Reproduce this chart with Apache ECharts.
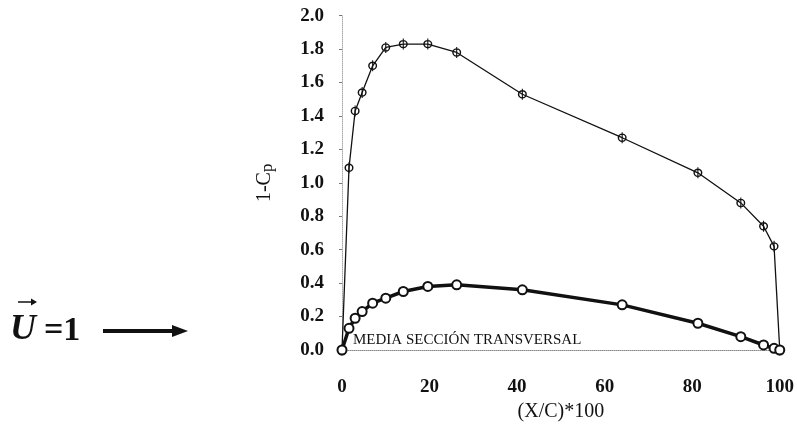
<!DOCTYPE html>
<html>
<head>
<meta charset="utf-8">
<script src="https://cdn.jsdelivr.net/npm/echarts@6/dist/echarts.min.js"></script>
<style>html,body{margin:0;padding:0;background:#fff;}#c{width:797px;height:431px;}</style>
</head>
<body>
<div id="c"></div>
<script>
const xPos = [0, 1.6, 3, 4.6, 7, 10, 14, 19.6, 26.2, 41.2, 64, 81.3, 91.1, 96.3, 98.7, 100];
const upperCp = [0, 1.09, 1.43, 1.54, 1.70, 1.81, 1.83, 1.83, 1.78, 1.53, 1.27, 1.06, 0.88, 0.74, 0.62, 0];
const lowerCp = [0, 0.13, 0.19, 0.23, 0.28, 0.31, 0.35, 0.38, 0.39, 0.36, 0.27, 0.16, 0.08, 0.03, 0.01, 0];
const xTicks = [0, 20, 40, 60, 80, 100];
const yTicks = [0.0, 0.2, 0.4, 0.6, 0.8, 1.0, 1.2, 1.4, 1.6, 1.8, 2.0];

const serif = '"Liberation Serif", "DejaVu Serif", serif';
const chart = echarts.init(document.getElementById('c'));
const ringSym = 'path://M5,0 A5,5 0 1,1 4.99,0 Z M5,1.6 A3.4,3.4 0 1,0 5.01,1.6 Z M4.4,-1.5 L5.6,-1.5 L5.6,11.5 L4.4,11.5 Z';

chart.setOption({
  animation: false,
  backgroundColor: '#fff',
  grid: { left: 342, right: 17, top: 15.7, bottom: 81, containLabel: false },
  xAxis: {
    type: 'value', min: xTicks[0], max: xTicks[xTicks.length - 1], interval: 20,
    name: '(X/C)*100', nameLocation: 'middle', nameGap: 52,
    nameTextStyle: { fontFamily: serif, fontSize: 20, color: '#111' },
    axisLine: { show: true, lineStyle: { color: '#888', type: 'dotted', width: 1 } },
    axisTick: { show: false },
    axisLabel: { margin: 28, fontFamily: serif, fontSize: 19, fontWeight: 'bold', color: '#111' },
    splitLine: { show: false }
  },
  yAxis: {
    type: 'value', min: yTicks[0], max: yTicks[yTicks.length - 1], interval: 0.2,
    name: '1-C{sub|p}', nameLocation: 'middle', nameGap: 66, nameRotate: 90,
    nameTextStyle: { fontFamily: serif, fontSize: 20, color: '#111',
      rich: { sub: { fontFamily: serif, fontSize: 17, color: '#111', padding: [5, 0, 0, 0] } } },
    axisLine: { show: true, lineStyle: { color: '#aaa', type: 'dotted', width: 1 } },
    axisTick: { show: true, length: 3, inside: false, lineStyle: { color: '#777' } },
    axisLabel: { margin: 18, fontFamily: serif, fontSize: 19, fontWeight: 'bold', color: '#111',
      formatter: v => v.toFixed(1) },
    splitLine: { show: false }
  },
  series: [
    {
      type: 'line', name: 'upper',
      data: xPos.map((x, i) => [x, upperCp[i]]),
      symbol: ringSym, symbolSize: [9, 11],
      itemStyle: { color: '#111' },
      lineStyle: { color: '#111', width: 1.3 },
      z: 2
    },
    {
      type: 'line', name: 'lower',
      data: xPos.map((x, i) => [x, lowerCp[i]]),
      symbol: 'emptyCircle', symbolSize: 9,
      itemStyle: { color: '#111', borderColor: '#111', borderWidth: 1.8 },
      lineStyle: { color: '#111', width: 3.5 },
      z: 3
    }
  ],
  graphic: [
    { type: 'text', left: 353, top: 333,
      style: { text: 'MEDIA SECCIÓN TRANSVERSAL', font: '15px ' + serif, fill: '#111' } },
    { type: 'text', left: 10, top: 312,
      style: { text: 'U', font: 'italic bold 36px ' + serif, fill: '#111' } },
    { type: 'text', left: 44, top: 314,
      style: { text: '=1', font: 'bold 34px ' + serif, fill: '#111' } },
    { type: 'line', shape: { x1: 18, y1: 302, x2: 33, y2: 302 }, style: { stroke: '#111', lineWidth: 1.5 } },
    { type: 'polygon', shape: { points: [[31, 298.5], [37, 302], [31, 305.5]] }, style: { fill: '#111' } },
    { type: 'line', shape: { x1: 103, y1: 331, x2: 176, y2: 331 }, style: { stroke: '#111', lineWidth: 4 } },
    { type: 'polygon', shape: { points: [[172, 325], [188, 331], [172, 337]] }, style: { fill: '#111' } }
  ]
});
</script>
</body>
</html>
